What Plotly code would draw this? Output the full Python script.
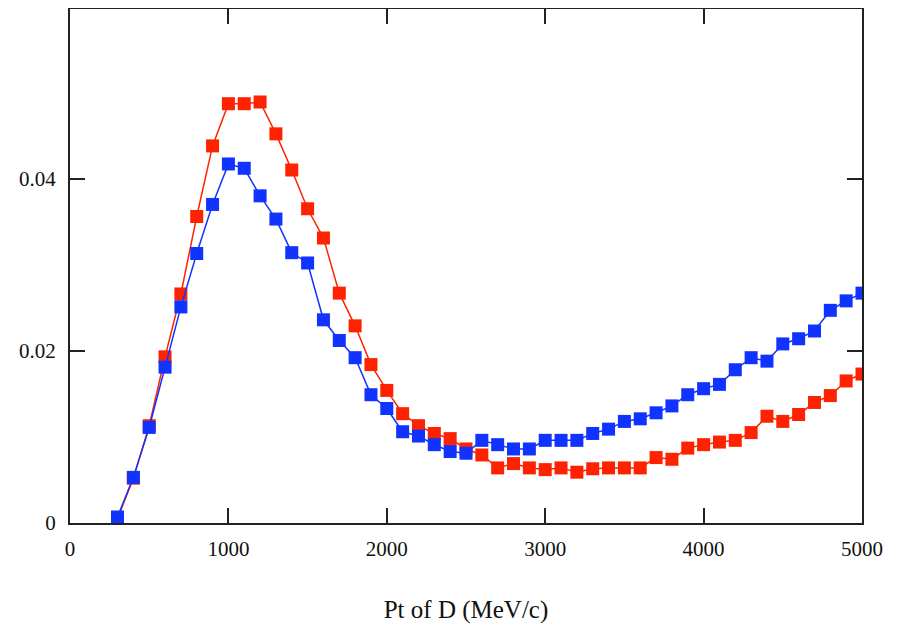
import plotly.graph_objects as go

pt = [300, 400, 500, 600, 700, 800, 900, 1000, 1100, 1200, 1300, 1400, 1500, 1600,
      1700, 1800, 1900, 2000, 2100, 2200, 2300, 2400, 2500, 2600, 2700, 2800, 2900,
      3000, 3100, 3200, 3300, 3400, 3500, 3600, 3700, 3800, 3900, 4000, 4100, 4200,
      4300, 4400, 4500, 4600, 4700, 4800, 4900, 5000]

red_vals = [0.0005, 0.0052, 0.0113, 0.0193, 0.0266, 0.0356, 0.0438, 0.0487, 0.0487, 0.0489,
            0.0452, 0.0410, 0.0365, 0.0331, 0.0267, 0.0229, 0.0184, 0.0154, 0.0127, 0.0113,
            0.0104, 0.0098, 0.0086, 0.0079, 0.0064, 0.0069, 0.0064, 0.0062, 0.0064, 0.0059,
            0.0063, 0.0064, 0.0064, 0.0064, 0.0076, 0.0074, 0.0087, 0.0091, 0.0094, 0.0096,
            0.0105, 0.0124, 0.0118, 0.0126, 0.0140, 0.0148, 0.0165, 0.0173]

blue_vals = [0.0007, 0.0053, 0.0111, 0.0181, 0.0251, 0.0313, 0.0370, 0.0417, 0.0412, 0.0380,
             0.0353, 0.0314, 0.0302, 0.0236, 0.0212, 0.0192, 0.0149, 0.0133, 0.0106, 0.0101,
             0.0091, 0.0083, 0.0081, 0.0096, 0.0091, 0.0086, 0.0086, 0.0096, 0.0096, 0.0096,
             0.0104, 0.0109, 0.0118, 0.0121, 0.0128, 0.0136, 0.0149, 0.0156, 0.0161, 0.0178,
             0.0192, 0.0188, 0.0208, 0.0214, 0.0223, 0.0247, 0.0258, 0.0267]

x_ticks = [0, 1000, 2000, 3000, 4000, 5000]
y_ticks = [0, 0.02, 0.04]
y_tick_text = ["0", "0.02", "0.04"]

RED = "#ff2200"
BLUE = "#1133ff"
SERIF = "Liberation Serif"

fig = go.Figure()
fig.add_trace(go.Scatter(x=pt, y=red_vals, mode="lines+markers",
                         line=dict(color=RED, width=1.5),
                         marker=dict(symbol="square", size=13, color=RED),
                         cliponaxis=True, showlegend=False))
fig.add_trace(go.Scatter(x=pt, y=blue_vals, mode="lines+markers",
                         line=dict(color=BLUE, width=1.5),
                         marker=dict(symbol="square", size=13, color=BLUE),
                         cliponaxis=True, showlegend=False))

axis_font = dict(family=SERIF, size=21, color="#111")

fig.update_layout(
    width=909, height=638,
    margin=dict(l=62, r=55, t=1, b=123, autoexpand=False),
    paper_bgcolor="white", plot_bgcolor="white",
    xaxis=dict(range=[0, 5000], tickvals=x_ticks, ticks="inside", ticklen=15,
               tickwidth=2, tickcolor="#222", showline=True, linewidth=2, linecolor="#222",
               mirror="ticks", showgrid=False, zeroline=False, tickfont=axis_font,
               ticklabelstandoff=6,
               title=dict(text="Pt of D (MeV/c)",
                          font=dict(family=SERIF, size=25, color="#111"),
                          standoff=40)),
    yaxis=dict(range=[0, 0.0597], tickvals=y_ticks, ticktext=y_tick_text, ticks="inside",
               ticklen=15, tickwidth=2, tickcolor="#222", showline=True, linewidth=2,
               linecolor="#222", mirror="ticks", showgrid=False, zeroline=False,
               tickfont=axis_font, ticklabelstandoff=8),
)

fig.write_html("out.html")
